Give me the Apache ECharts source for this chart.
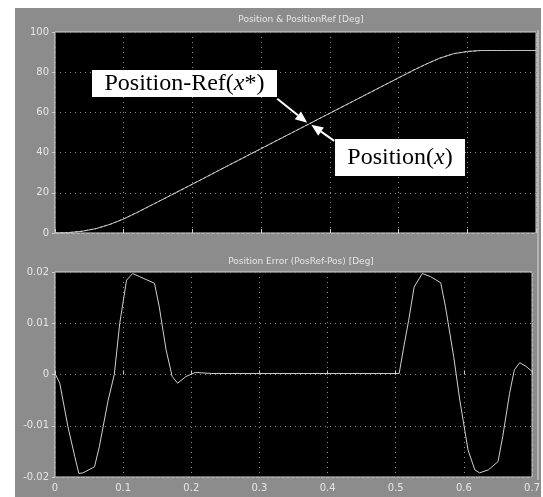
<!DOCTYPE html>
<html>
<head>
<meta charset="utf-8">
<script src="https://cdn.jsdelivr.net/npm/echarts@6/dist/echarts.min.js"></script>
<style>
html,body{margin:0;padding:0;background:#fff;}
#c{width:543px;height:497px;}
</style>
</head>
<body>
<div id="c"></div>
<script>
// ---- data ----
const topTitle = 'Position & PositionRef [Deg]';
const bottomTitle = 'Position Error (PosRef-Pos) [Deg]';
const xTicks = [0, 0.1, 0.2, 0.3, 0.4, 0.5, 0.6, 0.7];
const topYTicks = [0, 20, 40, 60, 80, 100];
const bottomYTicks = [-0.02, -0.01, 0, 0.01, 0.02];

const posTime = [0,0.02,0.04,0.06,0.08,0.10,0.12,0.14,0.16,0.20,0.25,0.30,0.35,0.40,0.45,0.50,0.52,0.54,0.56,0.58,0.60,0.62,0.66,0.70];
const positionRef = [0,0.2,0.9,2.2,4.3,7,10.3,13.8,17.3,24.3,33.2,42,50.8,59.6,68.4,77.2,80.7,84,87,89.2,90.3,90.8,90.8,90.8];
const position    = [0,0.2,0.9,2.2,4.3,7,10.3,13.8,17.3,24.3,33.2,42,50.8,59.6,68.4,77.2,80.7,84,87,89.2,90.3,90.8,90.8,90.8];

const errTime = [0,0.007,0.019,0.029,0.035,0.041,0.058,0.065,0.078,0.087,
  0.095,0.105,0.114,0.124,0.146,0.153,0.163,0.172,0.18,0.192,
  0.206,0.23,0.3,0.4,0.505,0.511,0.519,0.527,0.539,0.551,
  0.566,0.573,0.585,0.594,0.606,0.616,0.623,0.636,0.65,0.657,
  0.667,0.674,0.682,0.691,0.7];
const errVal = [0.0002,-0.0017,-0.0102,-0.016,-0.0193,-0.0192,-0.018,-0.0141,-0.005,0,
  0.01,0.0184,0.0197,0.0191,0.0178,0.0132,0.0048,-0.0004,-0.0017,-0.0004,
  0.0004,0.0002,0.0002,0.0002,0.0002,0.0048,0.0106,0.0171,0.0197,0.0191,
  0.0179,0.0132,0.0035,-0.005,-0.0147,-0.0186,-0.0192,-0.0186,-0.017,-0.0121,
  -0.0037,0.0009,0.0023,0.0016,0.0006];

const annotTime = 0.37;   // where the arrows point on the curve

// ---- chart ----
const chart = echarts.init(document.getElementById('c'), null, {renderer: 'canvas'});
const txt = '#e6e6e6';
const gridLine = {show: true, lineStyle: {color: '#8a8a8a', type: [1, 4], width: 1}};
const fmtErr = v => (Math.abs(v) < 1e-9 ? '0' : String(+v.toFixed(2)));

const option = {
  animation: false,
  backgroundColor: '#fff',
  title: [
    {text: topTitle, left: 296, top: 10, textAlign: 'center',
     textStyle: {color: txt, fontSize: 9, fontWeight: 'normal', fontFamily: 'DejaVu Sans'}},
    {text: bottomTitle, left: 296, top: 252, textAlign: 'center',
     textStyle: {color: txt, fontSize: 9, fontWeight: 'normal', fontFamily: 'DejaVu Sans'}}
  ],
  grid: [
    {left: 55, right: 7, top: 32, height: 201, show: true, backgroundColor: '#000', borderColor: '#d8d8d8', borderWidth: 1},
    {left: 55, right: 7, top: 272, height: 205, show: true, backgroundColor: '#000', borderColor: '#d8d8d8', borderWidth: 1}
  ],
  xAxis: [
    {gridIndex: 0, type: 'value', min: 0, max: 0.7, interval: 0.1,
     axisLine: {show: false}, axisTick: {show: true, inside: true, length: 4, lineStyle: {color: '#ccc'}},
     axisLabel: {show: false}, splitLine: gridLine},
    {gridIndex: 1, type: 'value', min: 0, max: 0.7, interval: 0.1,
     axisLine: {show: false}, axisTick: {show: true, inside: true, length: 4, lineStyle: {color: '#ccc'}},
     axisLabel: {show: true, color: txt, fontSize: 10, margin: 6, fontFamily: 'DejaVu Sans',
       formatter: v => String(+v.toFixed(1))},
     splitLine: gridLine}
  ],
  yAxis: [
    {gridIndex: 0, type: 'value', min: 0, max: 100, interval: 20,
     axisLine: {show: false}, axisTick: {show: true, inside: false, length: 3, lineStyle: {color: '#ccc'}},
     axisLabel: {color: txt, fontSize: 10, margin: 6, fontFamily: 'DejaVu Sans'},
     splitLine: gridLine},
    {gridIndex: 1, type: 'value', min: -0.02, max: 0.02, interval: 0.01,
     axisLine: {show: false}, axisTick: {show: true, inside: false, length: 3, lineStyle: {color: '#ccc'}},
     axisLabel: {color: txt, fontSize: 10, margin: 6, fontFamily: 'DejaVu Sans', formatter: fmtErr},
     splitLine: gridLine}
  ],
  series: [
    {name: 'Position-Ref', type: 'line', xAxisIndex: 0, yAxisIndex: 0, showSymbol: false,
     data: posTime.map((t, i) => [t, positionRef[i]]), lineStyle: {color: '#b8b8b8', width: 1}},
    {name: 'Position', type: 'line', xAxisIndex: 0, yAxisIndex: 0, showSymbol: false,
     data: posTime.map((t, i) => [t, position[i]]), lineStyle: {color: '#c8c8c8', width: 1, type: [3, 2]}},
    {name: 'Error', type: 'line', xAxisIndex: 1, yAxisIndex: 1, showSymbol: false,
     data: errTime.map((t, i) => [t, errVal[i]]), lineStyle: {color: '#d0d0d0', width: 1}}
  ],
  graphic: [
    {type: 'rect', z: -10, silent: true, shape: {x: 15, y: 8, width: 526, height: 489}, style: {fill: '#8c8c8c'}},
    {type: 'line', z: -5, silent: true, shape: {x1: 538, y1: 30, x2: 538, y2: 480}, style: {stroke: '#dcdcdc', lineWidth: 1}}
  ]
};
chart.setOption(option);

// ---- annotations anchored to the curve ----
function interp(ts, vs, t) {
  for (let i = 1; i < ts.length; i++) {
    if (t <= ts[i]) { const f = (t - ts[i-1]) / (ts[i] - ts[i-1]); return vs[i-1] + f * (vs[i] - vs[i-1]); }
  }
  return vs[vs.length - 1];
}
const anchor = chart.convertToPixel({gridIndex: 0}, [annotTime, interp(posTime, positionRef, annotTime)]);
function arrow(x1, y1, x2, y2) {
  const ang = Math.atan2(y2 - y1, x2 - x1), L = 12, W = 5;
  const bx = x2 - L * Math.cos(ang), by = y2 - L * Math.sin(ang);
  const px = -Math.sin(ang) * W, py = Math.cos(ang) * W;
  return [
    {type: 'line', silent: true, z: 20, shape: {x1: x1, y1: y1, x2: bx, y2: by}, style: {stroke: '#fff', lineWidth: 2}},
    {type: 'polygon', silent: true, z: 20, shape: {points: [[x2, y2], [bx + px, by + py], [bx - px, by - py]]}, style: {fill: '#fff'}}
  ];
}
const ax = anchor[0], ay = anchor[1];
const serif = '"Liberation Serif", "Times New Roman", serif';
const rich = {a: {fontFamily: serif, fontSize: 24, fill: '#000'}, i: {fontFamily: serif, fontSize: 24, fontStyle: 'italic', fill: '#000'}};
const g = option.graphic.concat(
  arrow(ax - 32, ay - 25, ax - 2, ay - 1),
  arrow(ax + 25, ay + 17, ax + 2, ay + 1),
  [
    {type: 'rect', silent: true, z: 20, shape: {x: 92, y: 70, width: 185, height: 27}, style: {fill: '#fff'}},
    {type: 'text', silent: true, z: 21, x: 184.5, y: 84, style: {
      text: '{a|Position-Ref(}{i|x}{a|*)}', align: 'center', verticalAlign: 'middle', rich: rich}},
    {type: 'rect', silent: true, z: 20, shape: {x: 335, y: 139, width: 130, height: 37}, style: {fill: '#fff'}},
    {type: 'text', silent: true, z: 21, x: 400, y: 158, style: {
      text: '{a|Position(}{i|x}{a|)}', align: 'center', verticalAlign: 'middle', rich: rich}}
  ]
);
chart.setOption({graphic: g}, {replaceMerge: ['graphic']});
</script>
</body>
</html>
